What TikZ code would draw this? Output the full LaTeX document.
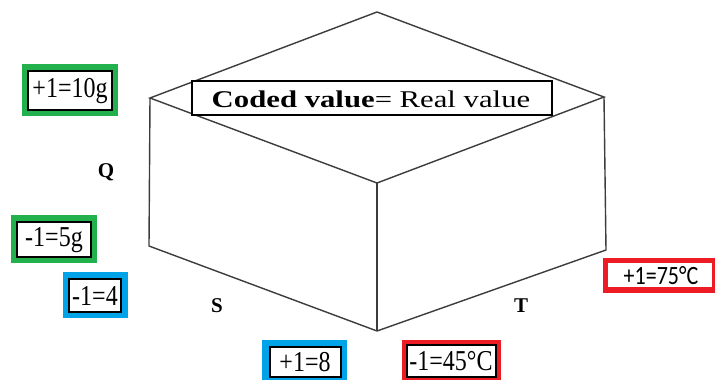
\documentclass[tikz,border=0pt]{standalone}
\usepackage{fontspec}
\setmainfont{Liberation Serif}
\newfontfamily\calib{Carlito}
\definecolor{pgreen}{RGB}{34,177,76}
\definecolor{pblue}{RGB}{0,162,232}
\definecolor{pred}{RGB}{237,28,36}
\definecolor{edge}{RGB}{60,60,60}
\newcommand{\tallt}[1]{\scalebox{1}[1.2]{#1}}
\tikzset{
  cubeedge/.style={draw=edge, line width=1.4pt, line join=miter},
  valtext/.style={inner sep=0pt, font=\fontsize{24}{27}\selectfont},
  axislabel/.style={inner sep=0pt, font=\fontsize{21}{23}\selectfont\bfseries},
  innerbox/.style={fill=white, draw=black, line width=1.4pt},
}
\begin{document}
\begin{tikzpicture}[x=1pt,y=-1pt]
\useasboundingbox[fill=white] (0,0) rectangle (715,380);
% cube vertices
\coordinate (top) at (377,12);
\coordinate (lt) at (150,98);
\coordinate (rt) at (604,97);
\coordinate (ft) at (377,183);
\coordinate (lb) at (149,246);
\coordinate (fb) at (377,331);
\coordinate (rb) at (606,250);
\draw[cubeedge] (lt) -- (top) -- (rt) -- (ft) -- cycle;
\draw[cubeedge] (lt) -- (lb) -- (fb) -- (rb) -- (rt);
\draw[cubeedge] (ft) -- (fb);
% coded value box
\node[draw=black, fill=white, line width=1.2pt, minimum width=360pt, minimum height=34pt, inner sep=0pt] (cv) at (372,98) {};
\node[inner sep=0pt, font=\fontsize{24}{27}\selectfont] (cvt) at (371,99) {\scalebox{1.28}[1]{\textbf{Coded value}= Real value}};
% axis labels
\node[axislabel] (q) at (106,172) {Q};
\node[axislabel] (s) at (217,306) {S};
\node[axislabel] (t) at (521,306) {T};
% green boxes
\fill[pgreen] (22,64) rectangle (118,116);
\draw[innerbox] (28,71) rectangle (112,110);
\node[valtext] (q1) at (70,91) {\tallt{+1=10g}};
\fill[pgreen] (11,215) rectangle (97,263);
\draw[innerbox] (17,222) rectangle (91,257);
\node[valtext] (q0) at (54,240) {\tallt{-1=5g}};
% blue boxes
\fill[pblue] (63,272) rectangle (128,318);
\draw[innerbox] (69,279) rectangle (121,312);
\node[valtext] (s0) at (95,296) {\tallt{-1=4}};
\fill[pblue] (262,340) rectangle (347,384);
\draw[innerbox] (270,347) rectangle (341,377);
\node[valtext] (s1) at (305,362) {\tallt{+1=8}};
% red boxes
\fill[pred] (402,340) rectangle (501,384);
\draw[innerbox] (407,345) rectangle (496,377);
\node[valtext] (t0) at (451,361) {\tallt{-1=45°C}};
\fill[pred] (603,258) rectangle (718,293);
\fill[white] (608,263) rectangle (712,287);
\node[inner sep=0pt, font=\calib\fontsize{22}{25}\selectfont] (t1) at (661,276) {\tallt{+1=75°C}};
\end{tikzpicture}
\end{document}
